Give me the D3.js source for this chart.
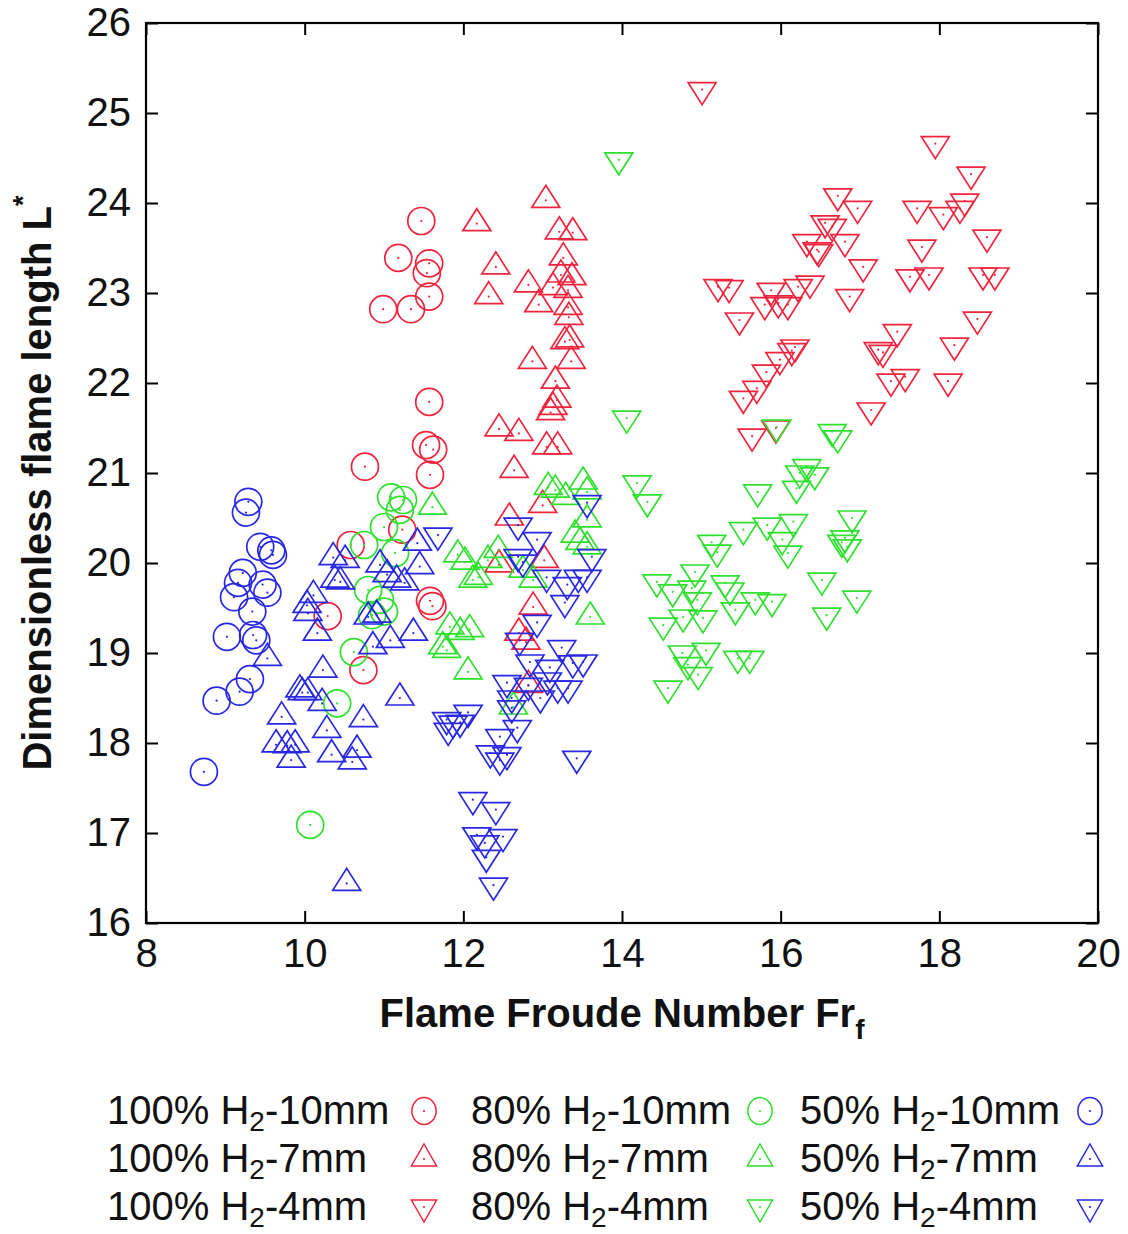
<!DOCTYPE html>
<html>
<head>
<meta charset="utf-8">
<script src="https://cdn.jsdelivr.net/npm/d3@7"></script>
<style>
  body { margin: 0; background: #fff; }
  text { font-family: "Liberation Sans", Arial, Helvetica, sans-serif; fill: #111; }
</style>
</head>
<body>
<svg id="chart" width="1128" height="1234"></svg>
<script>
// ---- data: [Froude number Fr_f, dimensionless flame length L*] ----
const h100_10mm = [[11.47,23.80],[11.18,23.39],[11.57,23.33],[11.54,23.22],[10.99,22.82],[11.34,22.82],[11.57,22.96],
  [11.57,21.79],[11.53,21.31],[11.62,21.26],[11.58,20.98],[10.76,21.07],[11.23,20.37],[10.58,20.20],[10.29,19.41],
  [11.58,19.58],[11.61,19.52],[10.74,18.81]];
const h100_7mm = [[13.04,24.03],[12.17,23.77],[13.21,23.68],[13.38,23.67],[12.41,23.29],[13.26,23.39],[12.82,23.09],
  [13.13,23.06],[12.32,22.96],[12.95,22.87],[13.23,23.20],[13.37,23.17],[13.32,23.03],[13.32,22.84],[13.33,22.73],
  [13.28,22.46],[13.34,22.48],[12.87,22.24],[13.36,22.24],[13.16,22.02],[13.18,21.81],[13.13,21.73],[13.10,21.67],
  [12.45,21.49],[12.70,21.44],[13.05,21.29],[13.19,21.29],[12.64,21.03],[13.00,20.64],[12.58,20.50],[13.02,20.03],
  [12.45,19.98],[12.88,19.51],[12.70,19.22],[12.79,19.12],[12.82,18.64]];
const h100_4mm = [[15.01,25.26],[15.21,23.07],[15.35,23.06],[15.48,22.70],[15.88,23.03],[15.80,22.87],[15.97,22.89],
  [16.09,22.87],[16.22,23.07],[16.37,23.11],[16.46,23.48],[16.33,23.57],[16.18,22.40],[17.95,24.66],[18.40,24.32],
  [16.72,24.08],[18.32,24.02],[18.26,23.94],[18.05,23.87],[17.72,23.94],[16.97,23.94],[16.56,23.78],[16.65,23.74],
  [16.81,23.57],[16.48,23.46],[17.78,23.51],[18.60,23.62],[17.04,23.29],[17.63,23.18],[17.87,23.20],[18.55,23.20],
  [18.70,23.20],[16.87,22.96],[18.48,22.71],[17.47,22.57],[18.19,22.42],[17.23,22.37],[17.29,22.34],[17.39,22.02],
  [17.57,22.07],[18.11,22.02],[17.14,21.70],[15.53,21.83],[15.70,21.94],[15.82,22.12],[15.99,22.26],[16.14,22.36],
  [15.64,21.41],[15.94,21.50]];
const h80_10mm = [[11.09,20.73],[11.24,20.70],[11.20,20.59],[11.00,20.40],[10.75,20.20],[11.14,20.11],[10.80,19.70],
  [10.95,19.59],[11.00,19.46],[10.85,19.42],[10.62,19.01],[10.41,18.44],[10.07,17.09]];
const h80_7mm = [[11.61,20.62],[11.93,20.09],[12.02,20.01],[12.12,19.81],[11.83,19.29],[11.96,19.23],[11.74,19.07],
  [12.06,18.79],[13.07,20.84],[13.16,20.81],[13.51,20.90],[13.56,20.79],[13.56,20.48],[13.41,20.31],[13.47,20.23],
  [13.56,20.18],[12.31,20.03],[12.44,20.14],[12.19,19.84],[12.75,19.92],[12.88,19.81],[13.60,19.40],[12.08,19.26],
  [12.63,18.40],[11.79,19.03],[13.29,20.73]];
const h80_4mm = [[13.96,24.48],[14.06,21.61],[14.19,20.89],[14.32,20.68],[15.95,21.51],[16.65,21.46],[16.72,21.39],
  [16.33,21.07],[16.24,21.00],[16.43,20.98],[16.20,20.83],[15.71,20.79],[16.90,20.50],[16.81,20.28],[16.77,20.23],
  [16.84,20.18],[15.53,20.37],[15.83,20.42],[16.16,20.46],[16.02,20.26],[16.09,20.11],[15.13,20.23],[15.20,20.12],
  [14.92,19.90],[14.44,19.79],[14.64,19.68],[14.88,19.72],[14.95,19.59],[15.30,19.78],[15.36,19.70],[15.68,19.59],
  [15.89,19.57],[15.43,19.48],[14.77,19.40],[15.02,19.39],[14.52,19.31],[16.52,19.81],[16.96,19.61],[16.58,19.42],
  [14.76,19.00],[15.06,19.03],[14.83,18.87],[14.96,18.76],[15.46,18.94],[15.61,18.94],[14.58,18.61]];
const h50_10mm = [[9.29,20.68],[9.26,20.56],[9.44,20.18],[9.58,20.14],[9.60,20.09],[9.22,19.89],[9.16,19.78],
  [9.47,19.76],[9.53,19.67],[9.11,19.62],[9.34,19.46],[9.02,19.18],[9.35,19.20],[9.39,19.14],[9.31,18.71],
  [9.18,18.57],[8.89,18.47],[8.73,17.68]];
const h50_7mm = [[10.36,20.06],[10.51,20.03],[10.38,19.81],[10.45,19.79],[10.11,19.64],[10.03,19.53],[10.04,19.44],
  [10.16,19.22],[9.53,18.94],[10.23,18.81],[9.97,18.56],[9.94,18.59],[10.04,18.56],[10.22,18.44],[11.20,18.50],
  [9.71,18.29],[10.74,18.26],[10.28,18.14],[9.64,17.98],[9.78,17.97],[9.88,17.98],[9.83,17.81],[10.34,17.87],
  [10.66,17.92],[10.60,17.79],[10.53,16.44],[11.42,20.22],[11.45,19.96],[10.95,19.98],[11.04,19.87],[11.16,19.81],
  [11.26,19.78],[10.91,19.42],[10.80,19.40],[11.08,19.14],[11.37,19.22],[10.86,19.07]];
const h50_4mm = [[11.68,20.31],[13.56,20.67],[12.69,20.42],[12.93,20.26],[12.69,20.07],[12.75,20.01],[13.62,20.07],
  [13.05,19.84],[13.31,19.76],[13.45,19.84],[13.56,19.84],[13.28,19.56],[12.93,19.34],[12.71,19.14],[13.24,19.06],
  [12.84,18.90],[13.09,18.84],[13.38,18.89],[13.51,18.90],[12.55,18.67],[12.82,18.64],[13.06,18.70],[13.19,18.61],
  [13.32,18.61],[12.97,18.50],[12.61,18.50],[12.61,18.39],[12.06,18.34],[11.79,18.26],[11.87,18.22],[11.96,18.23],
  [11.81,18.14],[12.68,18.17],[12.46,18.07],[12.34,17.89],[12.55,17.87],[12.46,17.81],[13.43,17.83],[12.12,17.37],
  [12.41,17.26],[12.17,16.98],[12.50,16.96],[12.27,16.89],[12.29,16.73],[12.38,16.42]];

const xTicks = [8, 10, 12, 14, 16, 18, 20];
const yTicks = [16, 17, 18, 19, 20, 21, 22, 23, 24, 25, 26];
const fractions = ["100%", "80%", "50%"];
const diameters = ["10mm", "7mm", "4mm"];

// ---- styling ----
const colors = { "100%": "#f0243c", "80%": "#2fe02f", "50%": "#2828e4" };
const shapeFor = { "10mm": "circle", "7mm": "up", "4mm": "down" };
const dataFor = {
  "100%": { "10mm": h100_10mm, "7mm": h100_7mm, "4mm": h100_4mm },
  "80%":  { "10mm": h80_10mm,  "7mm": h80_7mm,  "4mm": h80_4mm },
  "50%":  { "10mm": h50_10mm,  "7mm": h50_7mm,  "4mm": h50_4mm }
};

const plot = { left: 146, right: 1098, top: 23, bottom: 923 };
const tickFont = 40;

const svg = d3.select("#chart");
const x = d3.scaleLinear().domain([8, 20]).range([plot.left, plot.right]);
const y = d3.scaleLinear().domain([16, 26]).range([plot.bottom, plot.top]);

// marker outline paths, centred on the data point
function markerPath(shape, sx, sy) {
  if (sy === undefined) sy = sx;
  if (shape === "circle") {
    const rx = 13.5 * sx, ry = 13.5 * sy;
    return `M${rx},0A${rx},${ry} 0 1,1 ${-rx},0A${rx},${ry} 0 1,1 ${rx},0Z`;
  }
  const hw = 14 * sx, a = 15 * sy, b = 7 * sy;
  if (shape === "up") return `M0,${-a}L${hw},${b}L${-hw},${b}Z`;
  return `M0,${a}L${hw},${-b}L${-hw},${-b}Z`;
}

// ---- axes with inward ticks on all four sides ----
function styleAxis(g) {
  g.select(".domain").remove();
  g.selectAll(".tick line").attr("stroke", "#000").attr("stroke-width", 2);
  g.selectAll(".tick text").style("font-size", tickFont + "px").attr("fill", "#111");
}
svg.append("g").attr("transform", `translate(0,${plot.bottom})`)
  .call(d3.axisBottom(x).tickValues(xTicks).tickSize(-12).tickPadding(16).tickFormat(d3.format("d")))
  .call(styleAxis);
svg.append("g").attr("transform", `translate(0,${plot.top})`)
  .call(d3.axisTop(x).tickValues(xTicks).tickSize(-12).tickFormat(""))
  .call(styleAxis);
svg.append("g").attr("transform", `translate(${plot.left},0)`)
  .call(d3.axisLeft(y).tickValues(yTicks).tickSize(-12).tickPadding(15).tickFormat(d3.format("d")))
  .call(styleAxis);
svg.append("g").attr("transform", `translate(${plot.right},0)`)
  .call(d3.axisRight(y).tickValues(yTicks).tickSize(-12).tickFormat(""))
  .call(styleAxis);

svg.append("rect")
  .attr("x", plot.left).attr("y", plot.top)
  .attr("width", plot.right - plot.left).attr("height", plot.bottom - plot.top)
  .attr("fill", "none").attr("stroke", "#000").attr("stroke-width", 2.2);

// ---- data points ----
const pts = svg.append("g");
fractions.forEach(f => {
  diameters.forEach(d => {
    const g = pts.append("g");
    const col = colors[f];
    const p = markerPath(shapeFor[d], 1);
    const sel = g.selectAll("g.pt").data(dataFor[f][d]).join("g")
      .attr("class", "pt")
      .attr("transform", v => `translate(${x(v[0])},${y(v[1])})`);
    sel.append("path").attr("d", p).attr("fill", "none").attr("stroke", col).attr("stroke-width", 1.7);
    sel.append("circle").attr("r", 1.1).attr("fill", col);
  });
});

// ---- axis titles ----
const xt = svg.append("text")
  .attr("x", (plot.left + plot.right) / 2).attr("y", 1027)
  .attr("text-anchor", "middle")
  .style("font-size", "40px").style("font-weight", "bold");
xt.append("tspan").text("Flame Froude Number Fr");
xt.append("tspan").attr("dy", 12).style("font-size", "28px").text("f");

const yt = svg.append("text")
  .attr("transform", `translate(51,${(plot.top + plot.bottom) / 2 + 10}) rotate(-90)`)
  .attr("text-anchor", "middle")
  .style("font-size", "40px").style("font-weight", "bold");
yt.append("tspan").text("Dimensionless flame length L");
yt.append("tspan").attr("dy", -19).style("font-size", "27px").text("*");

// ---- legend ----
const legCols = [
  { f: "100%", tx: 107, mx: 424 },
  { f: "80%",  tx: 471, mx: 760 },
  { f: "50%",  tx: 800, mx: 1090 }
];
const legRows = [1124, 1172, 1220];
const leg = svg.append("g");
legCols.forEach(c => {
  diameters.forEach((d, i) => {
    const base = legRows[i];
    const t = leg.append("text").attr("x", c.tx).attr("y", base).style("font-size", "40px");
    t.append("tspan").text(`${c.f} H`);
    t.append("tspan").attr("dy", 7).style("font-size", "28px").text("2");
    t.append("tspan").attr("dy", -7).text(`-${d}`);
    const m = leg.append("g").attr("transform", `translate(${c.mx},${base - 13})`);
    m.append("path").attr("d", markerPath(shapeFor[d], 0.9, 1.0))
      .attr("fill", "none").attr("stroke", colors[c.f]).attr("stroke-width", 1.5);
    m.append("circle").attr("r", 1.1).attr("fill", colors[c.f]);
  });
});
</script>
</body>
</html>
